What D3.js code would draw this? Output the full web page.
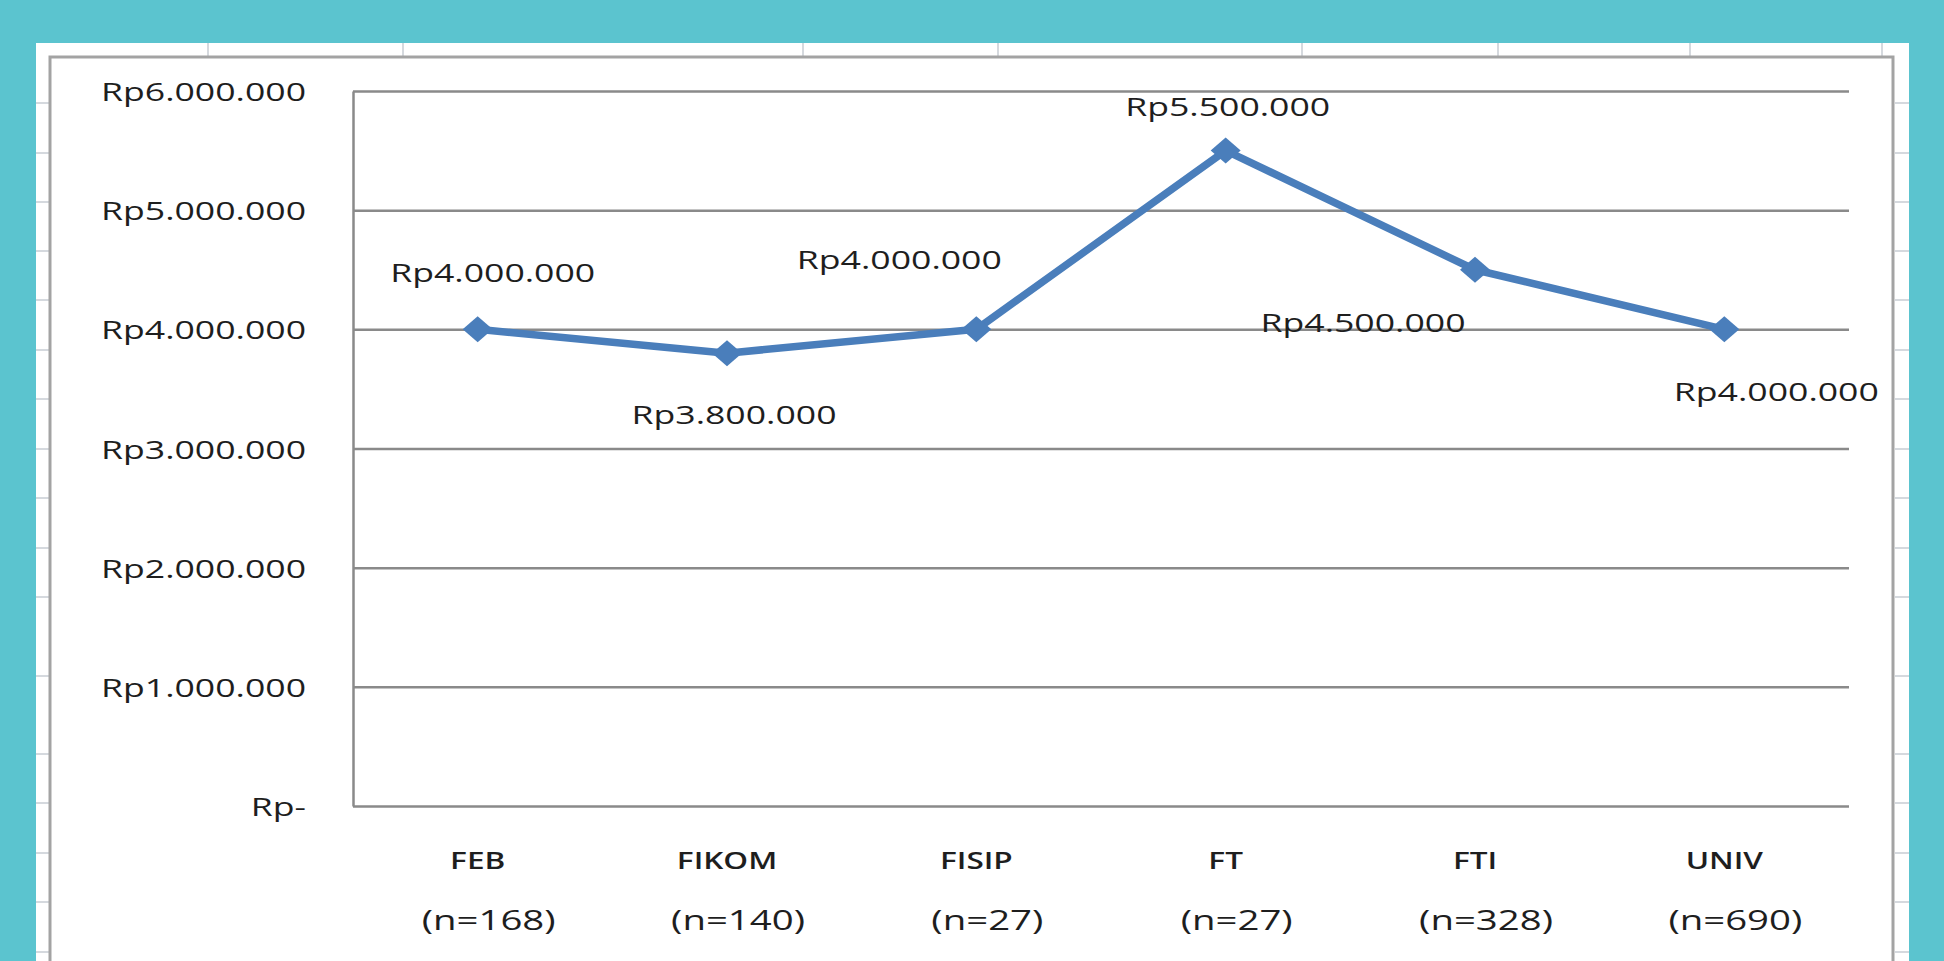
<!DOCTYPE html>
<meta charset="utf-8">
<head>
<style>
  body { margin: 0; background: #5bc4cf; }
  svg { display: block; }
  .grid line { stroke: #8a8a8a; stroke-width: 2.5px; }
  .grid path { stroke: #8a8a8a; stroke-width: 2.5px; }
  .ylab text, .vlab, .xlab, .nlab { font-family: "Open Sans", sans-serif; fill: #1e1e1e; }
  .cell { stroke: #d5d9de; stroke-width: 2px; }
</style>
</head>
<body>
<div id="content"></div>
<script src="https://cdnjs.cloudflare.com/ajax/libs/d3/7.8.5/d3.min.js"></script>
<script>

// data
var categories = ["FEB", "FIKOM", "FISIP", "FT", "FTI", "UNIV"];
var sampleSizes = [168, 140, 27, 27, 328, 690];
var salaries = [4000000, 3800000, 4000000, 5500000, 4500000, 4000000];
var yTicks = [0, 1000000, 2000000, 3000000, 4000000, 5000000, 6000000];

// manual data label placement (pixels from the point), as in the spreadsheet
var labelOffsets = [[15, -47], [7, 71], [-77, -60], [2, -35], [-112, 62], [52, 72]];

var W = 1944, H = 961;
var sx = 1.37; // the screenshot is stretched sideways, so text is too

var svg = d3.select("#content").append("svg")
    .attr("width", W)
    .attr("height", H);

// spreadsheet sheet behind the chart
svg.append("rect").attr("x", 36).attr("y", 43).attr("width", 1909 - 36).attr("height", H - 43).attr("fill", "#fff");

var cellCols = [208, 403, 803, 998, 1302, 1498, 1690, 1882];
var cellRows = [103, 153, 202, 251, 300, 350, 399, 449, 498, 548, 597, 676, 754, 803, 853, 902, 952];
svg.selectAll("line.ccol").data(cellCols).enter().append("line")
    .attr("class", "cell").attr("x1", d => d).attr("x2", d => d).attr("y1", 43).attr("y2", 56);
svg.selectAll("line.crowl").data(cellRows).enter().append("line")
    .attr("class", "cell").attr("x1", 36).attr("x2", 49).attr("y1", d => d).attr("y2", d => d);
svg.selectAll("line.crowr").data(cellRows).enter().append("line")
    .attr("class", "cell").attr("x1", 1895).attr("x2", 1909).attr("y1", d => d).attr("y2", d => d);

// chart area border
svg.append("rect")
    .attr("x", 50).attr("y", 57).attr("width", 1893 - 50).attr("height", 960)
    .attr("fill", "#fff").attr("stroke", "#a3a3a3").attr("stroke-width", 3);

var plot = {left: 353, right: 1849, top: 91, bottom: 806};

var x = d3.scaleBand().domain(categories).range([plot.left, plot.right]);
var y = d3.scaleLinear().domain([0, 6000000]).range([plot.bottom, plot.top]);

var loc = d3.formatLocale({decimal: ",", thousands: ".", grouping: [3], currency: ["Rp", ""]});
var money = loc.format("$,.0f");
function rp(d) { return d === 0 ? "Rp-" : money(d); }

function stretch(sel) {
  sel.each(function() {
    var t = d3.select(this);
    var tx = +t.attr("x") || 0, ty = +t.attr("y") || 0;
    t.attr("x", 0).attr("y", 0)
     .attr("transform", "translate(" + tx + "," + ty + ") scale(" + sx + ",1)");
  });
}

// gridlines + left axis line
svg.append("g")
    .attr("class", "grid")
    .attr("transform", "translate(" + plot.left + ",0)")
    .call(d3.axisLeft(y).tickValues(yTicks).tickSizeInner(-(plot.right - plot.left)).tickSizeOuter(0).tickFormat(""))
    .selectAll("text").remove();

// y tick labels
var ylab = svg.append("g")
    .attr("class", "ylab")
    .attr("transform", "translate(306,0)")
    .call(d3.axisLeft(y).tickValues(yTicks).tickSize(0).tickPadding(0).tickFormat(rp));
ylab.select(".domain").remove();
ylab.selectAll("text")
    .attr("dy", null)
    .style("font-size", "26px")
    .attr("text-anchor", "end")
    .attr("y", 9.5)
    .call(stretch);

// category labels
svg.selectAll("text.xlab").data(categories).enter().append("text")
    .attr("class", "xlab")
    .attr("x", d => x(d) + x.bandwidth() / 2)
    .attr("y", 869)
    .attr("text-anchor", "middle")
    .style("font-size", "23px")
    .style("font-weight", 600)
    .text(d => d)
    .call(stretch);

svg.selectAll("text.nlab").data(sampleSizes).enter().append("text")
    .attr("class", "nlab")
    .attr("x", (d, i) => x(categories[i]) + x.bandwidth() / 2 + 11)
    .attr("y", 930)
    .attr("text-anchor", "middle")
    .style("font-size", "28px")
    .text(d => "(n=" + d + ")")
    .call(stretch);

// the line
var pts = salaries.map((v, i) => [x(categories[i]) + x.bandwidth() / 2, y(v)]);

svg.append("path")
    .datum(pts)
    .attr("fill", "none")
    .attr("stroke", "#4a7ebb")
    .attr("stroke-width", 7.5)
    .attr("stroke-linejoin", "round")
    .attr("d", d3.line());

svg.selectAll("path.marker").data(pts).enter().append("path")
    .attr("class", "marker")
    .attr("transform", d => "translate(" + d[0] + "," + d[1] + ")")
    .attr("d", "M0,-13L15,0L0,13L-15,0Z")
    .attr("fill", "#4a7ebb");

// value labels
svg.selectAll("text.vlab").data(salaries).enter().append("text")
    .attr("class", "vlab")
    .attr("x", (d, i) => pts[i][0] + labelOffsets[i][0])
    .attr("y", (d, i) => pts[i][1] + labelOffsets[i][1])
    .attr("text-anchor", "middle")
    .style("font-size", "26px")
    .text(d => rp(d))
    .call(stretch);

</script>
</body>
</html>
